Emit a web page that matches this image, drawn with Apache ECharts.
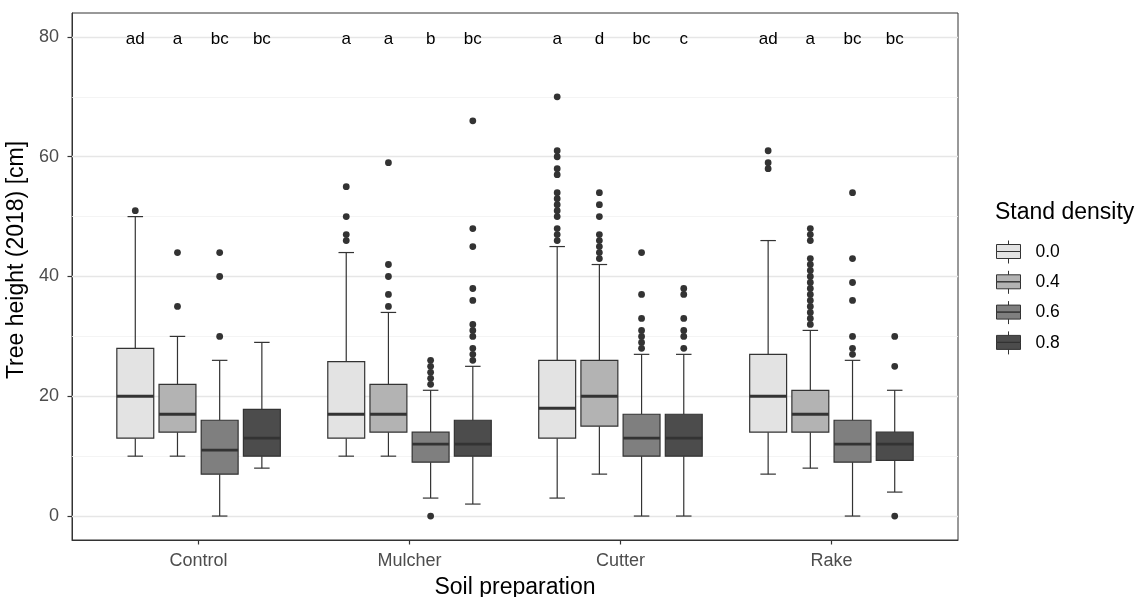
<!DOCTYPE html>
<html>
<head>
<meta charset="utf-8">
<script src="https://cdn.jsdelivr.net/npm/echarts@6.0.0/dist/echarts.min.js"></script>
<style>
  html, body { margin: 0; background: #fff; }
  #chart { width: 1142px; height: 597px; }
</style>
</head>
<body>
<div id="chart"></div>
<script>
const categories = ['Control', 'Mulcher', 'Cutter', 'Rake'];
const densities = ['0.0', '0.4', '0.6', '0.8'];

// [lower whisker, Q1, median, Q3, upper whisker], one row per category
const box00 = [[10, 13, 20, 28, 50], [10, 13, 17, 25.8, 44], [3, 13, 18, 26, 45], [7, 14, 20, 27, 46]];
const box04 = [[10, 14, 17, 22, 30], [10, 14, 17, 22, 34], [7, 15, 20, 26, 42], [8, 14, 17, 21, 31]];
const box06 = [[0, 7, 11, 16, 26], [3, 9, 12, 14, 21], [0, 10, 13, 17, 27], [0, 9, 12, 16, 26]];
const box08 = [[8, 10, 13, 17.8, 29], [2, 10, 12, 16, 25], [0, 10, 13, 17, 27], [4, 9.3, 12, 14, 21]];

// outliers, one list per category
const out00 = [[51], [55, 50, 47, 46], [70, 61, 60, 58, 57, 54, 53, 52, 51, 50, 48, 47, 46], [61, 59, 58]];
const out04 = [[44, 35], [59, 42, 40, 37, 35], [54, 52, 50, 47, 46, 45, 44, 43],
  [48, 47, 46, 43, 42, 41, 40, 39, 38, 37, 36, 35, 34, 33, 32]];
const out06 = [[44, 40, 30], [26, 25, 24, 23, 22, 0], [44, 37, 33, 31, 30, 29, 28], [54, 43, 39, 36, 30, 28, 27]];
const out08 = [[], [66, 48, 45, 38, 36, 32, 31, 30, 28, 27, 26], [38, 37, 33, 31, 30, 28], [30, 25, 0]];

// significance letters drawn at y = 80
const let00 = ['ad', 'a', 'a', 'ad'];
const let04 = ['a', 'a', 'd', 'a'];
const let06 = ['bc', 'b', 'bc', 'bc'];
const let08 = ['bc', 'bc', 'c', 'bc'];
const letterY = 80;

const yTicks = [0, 20, 40, 60, 80];
const yMinor = [10, 30, 50, 70];

const boxes = [box00, box04, box06, box08];
const outliers = [out00, out04, out06, out08];
const letters = [let00, let04, let06, let08];
const fills = ['#e3e3e3', '#b3b3b3', '#7f7f7f', '#4c4c4c'];
const ink = '#333333';
const font = "'Liberation Sans', Arial, sans-serif";

// dodge: 0.2 category units between boxes, box 0.175 units wide
const DODGE = 0.2;
const HALF_BOX = 0.0875;

function centerX(api, i, k) {
  const band = api.size([1, 0])[0];
  return api.coord([i, 0])[0] + (k - 1.5) * band * DODGE;
}

function boxItem(k) {
  return function (params, api) {
    const i = api.value(0);
    const band = api.size([1, 0])[0];
    const cx = centerX(api, i, k);
    const hw = band * HALF_BOX;
    const cap = hw * 0.42;
    const y = (d) => api.coord([i, api.value(d)])[1];
    const lo = y(1), q1 = y(2), md = y(3), q3 = y(4), hi = y(5);
    const thin = { stroke: ink, lineWidth: 1.2 };
    return {
      type: 'group',
      children: [
        { type: 'line', shape: { x1: cx, y1: hi, x2: cx, y2: q3 }, style: thin },
        { type: 'line', shape: { x1: cx, y1: q1, x2: cx, y2: lo }, style: thin },
        { type: 'line', shape: { x1: cx - cap, y1: hi, x2: cx + cap, y2: hi }, style: thin },
        { type: 'line', shape: { x1: cx - cap, y1: lo, x2: cx + cap, y2: lo }, style: thin },
        {
          type: 'rect',
          shape: { x: cx - hw, y: q3, width: hw * 2, height: q1 - q3 },
          style: { fill: api.visual('color'), stroke: ink, lineWidth: 1.2 }
        },
        { type: 'line', shape: { x1: cx - hw, y1: md, x2: cx + hw, y2: md }, style: { stroke: ink, lineWidth: 2.8 } },
        {
          type: 'text',
          x: cx,
          y: api.coord([i, letterY])[1] + 2.5,
          style: { text: letters[k][i], align: 'center', verticalAlign: 'middle', fill: '#000', fontSize: 17, fontFamily: font }
        }
      ]
    };
  };
}

function dotItem(k) {
  return function (params, api) {
    const i = api.value(0);
    const cx = centerX(api, i, k);
    const cy = api.coord([i, api.value(1)])[1];
    return { type: 'circle', shape: { cx: cx, cy: cy, r: 3.4 }, style: { fill: ink } };
  };
}

const KEY_ICON = 'path://M12,0V4M0,4H24V11H0ZM0,11H24V18H0ZM12,18V23';

const series = [{
  type: 'line',
  data: [],
  silent: true,
  z: 0,
  markLine: {
    silent: true,
    z: 1,
    symbol: 'none',
    label: { show: false },
    animation: false,
    data: yTicks.map((v) => ({ yAxis: v, lineStyle: { color: '#e6e6e6', width: 1.3, type: 'solid' } }))
      .concat(yMinor.map((v) => ({ yAxis: v, lineStyle: { color: '#f1f1f1', width: 0.8, type: 'solid' } })))
  }
}];

densities.forEach((d, k) => {
  series.push({
    type: 'custom',
    name: d,
    z: 10,
    itemStyle: { color: fills[k] },
    encode: { x: 0, y: [1, 2, 3, 4, 5] },
    data: boxes[k].map((b, i) => [i].concat(b)),
    renderItem: boxItem(k)
  });
  const pts = [];
  outliers[k].forEach((list, i) => list.forEach((v) => pts.push([i, v])));
  series.push({
    type: 'custom',
    name: d,
    z: 11,
    itemStyle: { color: fills[k] },
    encode: { x: 0, y: 1 },
    data: pts,
    renderItem: dotItem(k)
  });
});

const chart = echarts.init(document.getElementById('chart'), null, { renderer: 'canvas' });
chart.setOption({
  animation: false,
  backgroundColor: '#ffffff',
  textStyle: { fontFamily: font },
  title: {
    text: 'Stand density',
    left: 995,
    top: 201,
    padding: 0,
    textStyle: { fontSize: 23, fontWeight: 'normal', color: '#000', fontFamily: font }
  },
  legend: {
    orient: 'vertical',
    left: 996,
    top: 240,
    padding: 0,
    itemWidth: 24,
    itemHeight: 23,
    itemGap: 6.3,
    selectedMode: false,
    itemStyle: { borderColor: ink, borderWidth: 1 },
    textStyle: { fontSize: 17.5, color: '#000', fontFamily: font, padding: [0, 0, 0, 10] },
    data: densities.map((d) => ({ name: d, icon: KEY_ICON }))
  },
  grid: {
    left: 72, right: 184, top: 13, bottom: 57,
    outerBoundsMode: 'none',
    containLabel: false,
    show: true, borderColor: ink, borderWidth: 1, backgroundColor: '#fff'
  },
  xAxis: {
    type: 'value',
    min: -0.6,
    max: 3.6,
    name: 'Soil preparation',
    nameLocation: 'middle',
    nameGap: 36,
    nameTextStyle: { fontSize: 23, color: '#000', fontFamily: font },
    axisLine: { show: true, onZero: false, lineStyle: { color: ink, width: 1 } },
    axisTick: { show: true, length: 4.5, lineStyle: { color: ink, width: 1.2 }, customValues: [0, 1, 2, 3] },
    axisLabel: {
      customValues: [0, 1, 2, 3],
      formatter: (v) => categories[v],
      fontSize: 18, color: '#4d4d4d', margin: 12, fontFamily: font
    },
    splitLine: { show: false }
  },
  yAxis: {
    type: 'value',
    min: -4,
    max: 84,
    name: 'Tree height (2018) [cm]',
    nameLocation: 'middle',
    nameGap: 28,
    nameTextStyle: { fontSize: 23, color: '#000', fontFamily: font, padding: [0, 0, 0, 33] },
    axisLine: { show: true, onZero: false, lineStyle: { color: ink, width: 1 } },
    axisTick: { show: true, length: 4.5, lineStyle: { color: ink, width: 1.2 }, customValues: yTicks },
    axisLabel: { customValues: yTicks, fontSize: 18, color: '#4d4d4d', margin: 13, fontFamily: font },
    splitLine: { show: false }
  },
  series: series
});
</script>
</body>
</html>
